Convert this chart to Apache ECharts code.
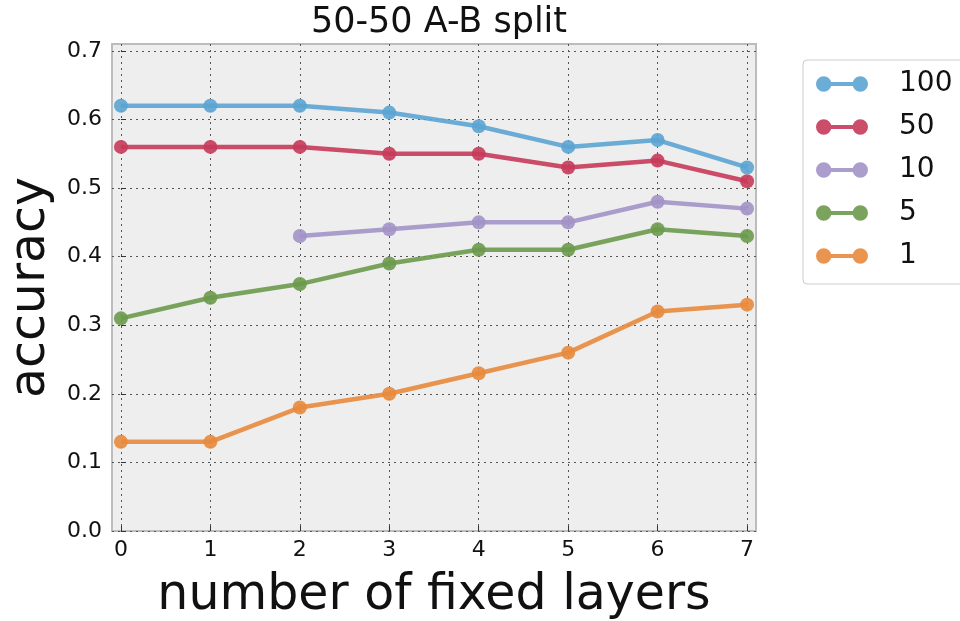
<!DOCTYPE html>
<html><head><meta charset="utf-8">
<script src="https://cdn.jsdelivr.net/npm/echarts@6/dist/echarts.min.js"></script>
<style>html,body{margin:0;padding:0;background:#fff}#c{width:960px;height:621px}</style>
</head><body><div id="c"></div>
<script>
const layers = [0, 1, 2, 3, 4, 5, 6, 7];
const yTicks = [0.0, 0.1, 0.2, 0.3, 0.4, 0.5, 0.6, 0.7];
const seriesNames = ['100', '50', '10', '5', '1'];
const acc100 = [0.62, 0.62, 0.62, 0.61, 0.59, 0.56, 0.57, 0.53];
const acc50  = [0.56, 0.56, 0.56, 0.55, 0.55, 0.53, 0.54, 0.51];
const acc10  = [null, null, 0.43, 0.44, 0.45, 0.45, 0.48, 0.47];
const acc5   = [0.31, 0.34, 0.36, 0.39, 0.41, 0.41, 0.44, 0.43];
const acc1   = [0.13, 0.13, 0.18, 0.20, 0.23, 0.26, 0.32, 0.33];
const colors = ['#5ba4d1', '#c63a5a', '#a292c7', '#6b9a4b', '#e8893c'];
const values = [acc100, acc50, acc10, acc5, acc1];

const icon = 'path://M0,8a8,8 0 1,1 16,0a8,8 0 1,1 -16,0z M38,8a8,8 0 1,1 16,0a8,8 0 1,1 -16,0z M15,6h24v4h-24z';
const font = 'DejaVu Sans';

const chart = echarts.init(document.getElementById('c'));
chart.setOption({
  animation: false,
  backgroundColor: '#ffffff',
  title: {
    text: '50-50 A-B split', left: 434, top: 0, textAlign: 'center',
    textStyle: {fontFamily: font, fontSize: 35, fontWeight: 'normal', color: '#111'}
  },
  grid: {left: 112, right: 204, top: 44, bottom: 90, show: true, containLabel: false,
    outerBoundsMode: 'none',
    backgroundColor: '#eeeeee', borderColor: '#bcbcbc', borderWidth: 2},
  legend: {
    orient: 'vertical', left: 803, top: 60,
    padding: [9, 60, 13, 13],
    itemWidth: 52, itemHeight: 16, itemGap: 13,
    borderColor: '#cccccc', borderWidth: 1, borderRadius: 4, backgroundColor: '#fff',
    icon: icon,
    textStyle: {fontFamily: font, fontSize: 28, color: '#111', lineHeight: 30, padding: [0, 0, 0, 26]},
    data: seriesNames
  },
  xAxis: {
    type: 'value', min: -0.1, max: 7.1,
    name: 'number of fixed layers', nameLocation: 'middle', nameGap: 41,
    nameTextStyle: {fontFamily: font, fontSize: 49, color: '#111'},
    axisLine: {show: false},
    axisTick: {show: true, inside: true, length: 5, lineStyle: {color: '#333'}, customValues: layers},
    axisLabel: {fontFamily: font, fontSize: 22, color: '#111', margin: 8, customValues: layers},
    splitLine: {show: true, lineStyle: {color: '#555', type: [2, 4], width: 1}}
  },
  yAxis: {
    type: 'value', min: 0, max: 0.71,
    name: 'accuracy', nameLocation: 'middle', nameGap: 51,
    nameTextStyle: {fontFamily: font, fontSize: 49, color: '#111'},
    axisLine: {show: false},
    axisTick: {show: true, inside: true, length: 5, lineStyle: {color: '#333'}, customValues: yTicks},
    axisLabel: {fontFamily: font, fontSize: 22, color: '#111', margin: 10, customValues: yTicks,
      formatter: v => v.toFixed(1)},
    splitLine: {show: true, lineStyle: {color: '#555', type: [2, 4], width: 1}}
  },
  series: seriesNames.map((n, i) => ({
    name: n, type: 'line',
    data: layers.map((x, j) => values[i][j] === null ? [x, '-'] : [x, values[i][j]]),
    symbol: 'circle', symbolSize: 14,
    itemStyle: {color: colors[i], opacity: 0.9},
    lineStyle: {color: colors[i], width: 4.5, opacity: 0.9},
    connectNulls: false, z: 10 - i
  }))
});
</script></body></html>
